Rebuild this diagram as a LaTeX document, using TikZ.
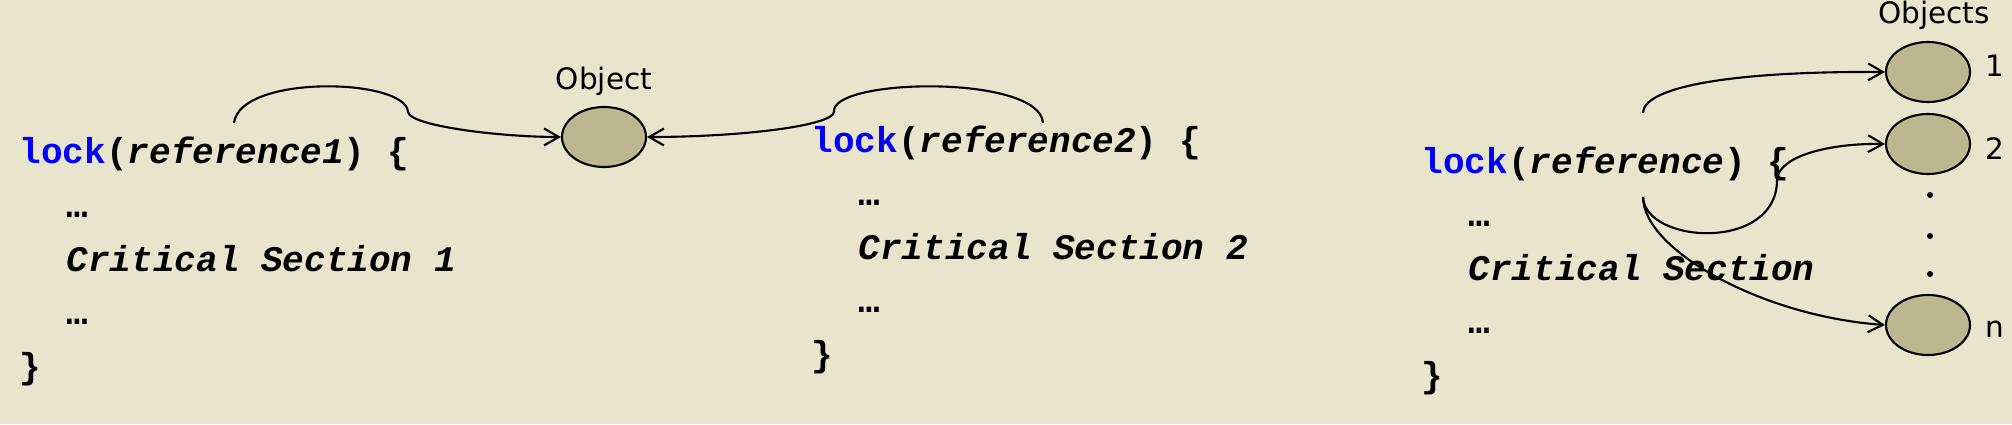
\documentclass[tikz,border=0pt]{standalone}
\usepackage{fontspec}
\setmonofont{Liberation Mono}
\newfontfamily\labelfamily{DejaVu Sans}
\usepackage{tikz}
\usetikzlibrary{shapes,arrows,arrows.meta,positioning}

\definecolor{slidebg}{RGB}{233,229,204}
\definecolor{objfill}{RGB}{188,183,142}
\definecolor{lockblue}{RGB}{0,0,255}

\newcommand{\codefont}{\fontsize{10.25}{12}\selectfont\ttfamily\bfseries}
\newcommand{\lockline}[1]{\textcolor{lockblue}{lock}(\textit{#1}) \{}

\tikzstyle{code} = [inner sep=0pt, font=\codefont]
\tikzstyle{object} = [ellipse, draw, fill=objfill, line width=0.6pt,
    minimum width=0.84cm, minimum height=0.60cm, inner sep=0pt]
\tikzstyle{objlabel} = [inner sep=0pt, font=\fontsize{8.4}{10}\selectfont\labelfamily]
\tikzstyle{ref} = [->, line width=0.6pt]

\begin{document}
\begin{tikzpicture}[>={Straight Barb[length=4.2pt,width=4.8pt]}]
    \fill[slidebg] (0,0) rectangle (20.12,4.24);
    \useasboundingbox (0,0) rectangle (20.12,4.24);

    % Code blocks
    % One reference
    \node [code, anchor=base west] (l1) at (0.19,2.60) {\lockline{reference1}};
    \node [code, below=0.535cm of l1.base west, anchor=base west, xshift=0.47cm] (d1) {…};
    \node [code, below=0.535cm of d1.base west, anchor=base west] (cs1) {\textit{Critical Section 1}};
    \node [code, below=0.535cm of cs1.base west, anchor=base west] (e1) {…};
    \node [code, below=0.535cm of e1.base west, anchor=base west, xshift=-0.47cm] (b1) {\}};

    % Other reference
    \node [code, anchor=base west] (l2) at (8.11,2.72) {\lockline{reference2}};
    \node [code, below=0.535cm of l2.base west, anchor=base west, xshift=0.47cm] (d2) {…};
    \node [code, below=0.535cm of d2.base west, anchor=base west] (cs2) {\textit{Critical Section 2}};
    \node [code, below=0.535cm of cs2.base west, anchor=base west] (e2) {…};
    \node [code, below=0.535cm of e2.base west, anchor=base west, xshift=-0.47cm] (b2) {\}};

    % Many objects
    \node [code, anchor=base west] (l3) at (14.21,2.51) {\lockline{reference}};
    \node [code, below=0.535cm of l3.base west, anchor=base west, xshift=0.47cm] (d3) {…};
    \node [code, below=0.535cm of d3.base west, anchor=base west] (cs3) {\textit{Critical Section}};
    \node [code, below=0.535cm of cs3.base west, anchor=base west] (e3) {…};
    \node [code, below=0.535cm of e3.base west, anchor=base west, xshift=-0.47cm] (b3) {\}};

    % Objects
    \node [object] (obj) at (6.04,2.87) {};
    \node [objlabel, above of=obj, node distance=0.56cm] (objname) {Object};

    \node [object] (o1) at (19.28,3.52) {};
    \node [object, below of=o1, node distance=0.72cm] (o2) {};
    \node [object, below of=o2, node distance=1.81cm] (on) {};
    \node [objlabel, above of=o1, node distance=0.57cm, xshift=0.06cm] (objsname) {Objects};
    \node [objlabel, right of=o1, node distance=0.67cm, yshift=0.06cm] (n1) {1};
    \node [objlabel, right of=o2, node distance=0.67cm, yshift=-0.05cm] (n2) {2};
    \node [objlabel, right of=on, node distance=0.67cm, yshift=-0.04cm] (nn) {n};
    \foreach \y in {2.29,1.88,1.50}
        \fill (19.30,\y) circle (0.03);

    % Draw edges
    \coordinate (r1) at (2.34,3.01);
    \coordinate (r2) at (10.43,3.01);
    \coordinate (r3) at (16.43,3.11);
    \coordinate (r4) at (16.43,2.27);
    \draw[ref] (r1) .. controls (2.40,3.50) and (4.06,3.46) .. (4.08,3.12)
        .. controls (4.10,2.98) and (5.0,2.87) .. (obj.west);
    \draw[ref] (r2) .. controls (10.40,3.50) and (8.30,3.46) .. (8.34,3.12)
        .. controls (8.32,2.98) and (7.4,2.87) .. (obj.east);
    \draw[ref] (r3) .. controls (16.43,3.35) and (17.2,3.53) .. (o1.west);
    \draw[ref] (r4) .. controls (16.45,1.80) and (17.77,1.72) .. (17.77,2.44)
        .. controls (17.78,2.68) and (18.3,2.81) .. (o2.west);
    \draw[ref] (r4) .. controls (16.43,1.75) and (17.6,1.08) .. (on.west);

\end{tikzpicture}
\end{document}
